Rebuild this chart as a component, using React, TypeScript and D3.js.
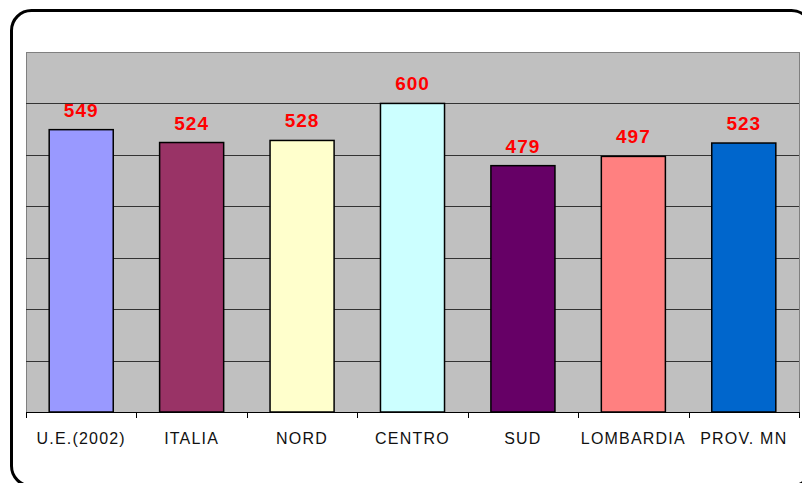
import * as d3 from 'd3';
import { useEffect, useRef } from 'react';

const categories = ['U.E.(2002)', 'ITALIA', 'NORD', 'CENTRO', 'SUD', 'LOMBARDIA', 'PROV. MN'];
const values = [549, 524, 528, 600, 479, 497, 523];
const barColors = ['#9999FF', '#993366', '#FFFFCC', '#CCFFFF', '#660066', '#FF8080', '#0066CC'];
const gridValues = [100, 200, 300, 400, 500, 600];

const W = 802;
const H = 483;

export default function App() {
  const ref = useRef<SVGSVGElement>(null);

  useEffect(() => {
    const svg = d3.select(ref.current);
    svg.selectAll('*').remove();

    const left = 26, right = 799, top = 52, bottom = 412;

    // outer rounded frame (runs off the right and bottom edges)
    svg.append('rect')
      .attr('x', 11.5).attr('y', 10.5)
      .attr('width', 800).attr('height', 475.5)
      .attr('rx', 20).attr('ry', 20)
      .attr('fill', '#fff')
      .attr('stroke', '#000')
      .attr('stroke-width', 3);

    const x = d3.scaleBand<string>()
      .domain(categories)
      .range([left, right])
      .paddingInner(0.42)
      .paddingOuter(0.21);

    const y = d3.scaleLinear().domain([0, 700]).range([bottom, top]);

    // plot area
    svg.append('rect')
      .attr('x', left + 0.5).attr('y', top + 0.5)
      .attr('width', right - left).attr('height', bottom - top)
      .attr('fill', '#C0C0C0')
      .attr('stroke', '#808080')
      .attr('stroke-width', 1);

    svg.append('g')
      .selectAll('line')
      .data(gridValues)
      .enter()
      .append('line')
      .attr('x1', left).attr('x2', right)
      .attr('y1', d => Math.round(y(d)) + 0.5)
      .attr('y2', d => Math.round(y(d)) + 0.5)
      .attr('stroke', '#333')
      .attr('stroke-width', 1);

    const step = x.step();

    svg.append('g')
      .selectAll('rect')
      .data(values)
      .enter()
      .append('rect')
      .attr('x', (d, i) => x(categories[i])!)
      .attr('y', d => y(d))
      .attr('width', x.bandwidth())
      .attr('height', d => bottom - y(d))
      .attr('fill', (d, i) => barColors[i])
      .attr('stroke', '#000')
      .attr('stroke-width', 1.5);

    // x axis
    svg.append('line')
      .attr('x1', left).attr('x2', right + 1)
      .attr('y1', bottom + 0.5).attr('y2', bottom + 0.5)
      .attr('stroke', '#000');

    svg.append('g')
      .selectAll('line')
      .data(d3.range(categories.length + 1))
      .enter()
      .append('line')
      .attr('x1', i => Math.round(left + i * step) + 0.5)
      .attr('x2', i => Math.round(left + i * step) + 0.5)
      .attr('y1', bottom)
      .attr('y2', bottom + 6)
      .attr('stroke', '#000');

    svg.append('g')
      .selectAll('text')
      .data(categories)
      .enter()
      .append('text')
      .text(d => d)
      .attr('x', d => x(d)! + x.bandwidth() / 2)
      .attr('y', 444)
      .attr('text-anchor', 'middle')
      .style('font-family', '"Liberation Sans", Arial, sans-serif')
      .style('font-size', '16px')
      .style('letter-spacing', '1.2px')
      .style('fill', '#111');

    // value labels
    svg.append('g')
      .selectAll('text')
      .data(values)
      .enter()
      .append('text')
      .text(d => d)
      .attr('x', (d, i) => x(categories[i])! + x.bandwidth() / 2)
      .attr('y', d => y(d) - 13)
      .attr('text-anchor', 'middle')
      .style('font-family', '"Liberation Sans", Arial, sans-serif')
      .style('font-size', '19px')
      .style('font-weight', 'bold')
      .style('letter-spacing', '1px')
      .style('fill', '#FF0000');
  }, []);

  return (
    <svg
      ref={ref}
      width={W}
      height={H}
      style={{ position: 'absolute', left: 0, top: 0, background: '#fff' }}
    />
  );
}
